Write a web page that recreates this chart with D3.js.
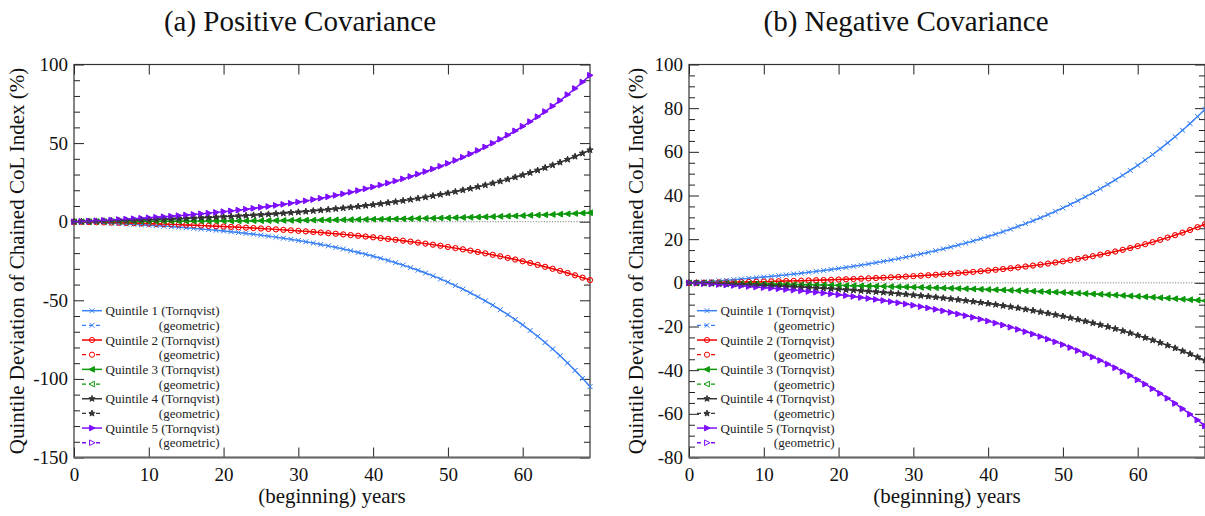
<!DOCTYPE html>
<html><head><meta charset="utf-8">
<script src="https://cdn.jsdelivr.net/npm/d3@7"></script>
<style>
html,body{margin:0;padding:0;background:#fff;}
svg{display:block;}
</style></head>
<body>
<svg id="chart" width="1205" height="516"></svg>
<script>
// ---------------- data ----------------
const years = d3.range(0, 70);
const xTicks = [0, 10, 20, 30, 40, 50, 60];
const yTicksA = [-150, -100, -50, 0, 50, 100];
const yMinorA = [-140,-130,-120,-110,-90,-80,-70,-60,-40,-30,-20,-10,10,20,30,40,60,70,80,90];
const yTicksB = [-80, -60, -40, -20, 0, 20, 40, 60, 80, 100];
const yMinorB = [-75,-70,-65,-55,-50,-45,-35,-30,-25,-15,-10,-5,5,10,15,25,30,35,45,50,55,65,70,75,85,90,95];
const seriesNames = ["Quintile 1", "Quintile 2", "Quintile 3", "Quintile 4", "Quintile 5"];
const seriesColors = ["#3b82f6", "#f20000", "#0c990c", "#333333", "#7f0fff"];
const titles = ["(a) Positive Covariance", "(b) Negative Covariance"];

// (a) positive covariance, deviation in % by (beginning) year
const posQ1 = [0,-0.18,-0.36,-0.56,-0.76,-0.98,-1.20,-1.44,-1.69,-1.95,-2.23,-2.52,-2.83,-3.15,-3.49,-3.84,-4.22,-4.61,-5.02,-5.45,-5.91,-6.39,-6.89,-7.42,-7.98,-8.57,-9.18,-9.83,-10.51,-11.23,-11.98,-12.77,-13.60,-14.47,-15.39,-16.36,-17.37,-18.44,-19.56,-20.74,-21.98,-23.28,-24.65,-26.09,-27.61,-29.20,-30.87,-32.63,-34.48,-36.42,-38.47,-40.62,-42.88,-45.25,-47.75,-50.37,-53.13,-56.03,-59.08,-62.28,-65.65,-69.20,-72.92,-76.84,-80.95,-85.28,-89.83,-94.61,-99.64,-104.92];
const posQ2 = [0,-0.10,-0.21,-0.32,-0.44,-0.56,-0.68,-0.81,-0.95,-1.09,-1.23,-1.39,-1.55,-1.71,-1.88,-2.06,-2.25,-2.44,-2.65,-2.86,-3.08,-3.30,-3.54,-3.79,-4.05,-4.31,-4.59,-4.88,-5.18,-5.50,-5.82,-6.16,-6.52,-6.89,-7.27,-7.67,-8.08,-8.52,-8.97,-9.43,-9.92,-10.43,-10.96,-11.51,-12.08,-12.67,-13.29,-13.94,-14.61,-15.31,-16.04,-16.79,-17.58,-18.40,-19.25,-20.14,-21.07,-22.03,-23.03,-24.07,-25.16,-26.29,-27.46,-28.69,-29.96,-31.28,-32.66,-34.10,-35.59,-37.15];
const posQ3 = [0,0.02,0.03,0.05,0.07,0.09,0.10,0.12,0.15,0.17,0.19,0.21,0.24,0.26,0.29,0.32,0.35,0.37,0.41,0.44,0.47,0.51,0.54,0.58,0.62,0.66,0.70,0.75,0.79,0.84,0.89,0.95,1.00,1.06,1.12,1.18,1.24,1.31,1.38,1.45,1.52,1.60,1.68,1.77,1.85,1.94,2.04,2.14,2.24,2.35,2.46,2.58,2.70,2.82,2.95,3.09,3.23,3.38,3.53,3.69,3.86,4.03,4.21,4.40,4.60,4.80,5.01,5.23,5.46,5.70];
const posQ4 = [0,0.10,0.20,0.31,0.42,0.54,0.66,0.79,0.93,1.07,1.22,1.37,1.53,1.70,1.88,2.06,2.26,2.46,2.67,2.89,3.12,3.37,3.62,3.88,4.16,4.45,4.76,5.07,5.40,5.75,6.11,6.49,6.89,7.31,7.74,8.20,8.67,9.17,9.69,10.24,10.81,11.40,12.03,12.68,13.36,14.07,14.82,15.60,16.42,17.27,18.16,19.10,20.08,21.10,22.17,23.29,24.46,25.68,26.96,28.30,29.70,31.17,32.70,34.30,35.98,37.74,39.57,41.49,43.50,45.60];
const posQ5 = [0,0.20,0.41,0.63,0.86,1.10,1.35,1.62,1.89,2.18,2.48,2.80,3.13,3.47,3.84,4.21,4.61,5.02,5.45,5.91,6.38,6.87,7.39,7.93,8.50,9.09,9.71,10.36,11.04,11.75,12.49,13.26,14.07,14.92,15.81,16.74,17.71,18.73,19.79,20.90,22.07,23.28,24.56,25.89,27.28,28.74,30.26,31.86,33.52,35.27,37.09,39.00,41.00,43.08,45.27,47.55,49.94,52.44,55.06,57.79,60.65,63.65,66.78,70.05,73.48,77.06,80.81,84.73,88.83,93.12];

// (b) negative covariance
const negQ1 = [0,0.22,0.45,0.68,0.93,1.19,1.46,1.74,2.03,2.33,2.64,2.97,3.31,3.66,4.03,4.41,4.81,5.23,5.66,6.11,6.58,7.07,7.58,8.10,8.65,9.23,9.82,10.44,11.09,11.76,12.46,13.19,13.94,14.73,15.55,16.41,17.30,18.22,19.18,20.19,21.23,22.31,23.44,24.62,25.84,27.12,28.44,29.82,31.26,32.75,34.31,35.93,37.61,39.37,41.19,43.09,45.07,47.13,49.27,51.50,53.82,56.24,58.76,61.37,64.10,66.93,69.88,72.95,76.15,79.48];
const negQ2 = [0,0.05,0.09,0.14,0.19,0.25,0.31,0.37,0.43,0.50,0.57,0.65,0.72,0.81,0.89,0.98,1.08,1.18,1.28,1.40,1.51,1.63,1.76,1.90,2.04,2.19,2.35,2.51,2.69,2.87,3.06,3.27,3.48,3.70,3.94,4.18,4.44,4.72,5.00,5.31,5.62,5.96,6.31,6.67,7.06,7.47,7.90,8.35,8.82,9.32,9.84,10.39,10.97,11.58,12.21,12.89,13.59,14.33,15.11,15.93,16.80,17.70,18.65,19.66,20.71,21.82,22.98,24.20,25.49,26.84];
const negQ3 = [0,-0.05,-0.09,-0.14,-0.19,-0.24,-0.29,-0.34,-0.39,-0.45,-0.51,-0.56,-0.62,-0.68,-0.75,-0.81,-0.88,-0.94,-1.01,-1.08,-1.15,-1.23,-1.31,-1.38,-1.46,-1.55,-1.63,-1.72,-1.80,-1.90,-1.99,-2.08,-2.18,-2.28,-2.38,-2.49,-2.60,-2.71,-2.82,-2.94,-3.06,-3.18,-3.31,-3.44,-3.57,-3.70,-3.84,-3.98,-4.13,-4.28,-4.43,-4.59,-4.75,-4.92,-5.09,-5.26,-5.44,-5.62,-5.81,-6.00,-6.20,-6.40,-6.61,-6.82,-7.04,-7.26,-7.49,-7.72,-7.96,-8.21];
const negQ4 = [0,-0.10,-0.20,-0.31,-0.42,-0.53,-0.65,-0.78,-0.91,-1.04,-1.18,-1.33,-1.48,-1.64,-1.80,-1.97,-2.15,-2.34,-2.53,-2.73,-2.94,-3.16,-3.39,-3.62,-3.87,-4.12,-4.39,-4.67,-4.96,-5.26,-5.57,-5.89,-6.23,-6.58,-6.95,-7.33,-7.73,-8.14,-8.57,-9.02,-9.49,-9.97,-10.48,-11.00,-11.55,-12.12,-12.71,-13.33,-13.97,-14.64,-15.33,-16.06,-16.81,-17.59,-18.41,-19.26,-20.14,-21.06,-22.02,-23.02,-24.06,-25.14,-26.26,-27.43,-28.65,-29.91,-31.23,-32.60,-34.03,-35.52];
const negQ5 = [0,-0.18,-0.37,-0.56,-0.77,-0.98,-1.20,-1.43,-1.67,-1.92,-2.18,-2.45,-2.73,-3.02,-3.33,-3.64,-3.97,-4.31,-4.67,-5.04,-5.43,-5.83,-6.25,-6.69,-7.14,-7.61,-8.10,-8.61,-9.15,-9.70,-10.28,-10.88,-11.50,-12.15,-12.83,-13.53,-14.27,-15.03,-15.82,-16.65,-17.51,-18.41,-19.34,-20.31,-21.32,-22.37,-23.46,-24.60,-25.79,-27.02,-28.30,-29.64,-31.03,-32.48,-33.98,-35.55,-37.18,-38.88,-40.65,-42.49,-44.40,-46.40,-48.47,-50.63,-52.88,-55.21,-57.65,-60.18,-62.82,-65.56];

// geometric-mean indices coincide with the Tornqvist ones in the picture
const posGeo = [posQ1, posQ2, posQ3, posQ4, posQ5];
const negGeo = [negQ1, negQ2, negQ3, negQ4, negQ5];

// ---------------- drawing ----------------
const SERIF = "Liberation Serif";
const svg = d3.select("#chart");

const markerPaths = {
  cross: "M-2.4,-2.4L2.4,2.4M-2.4,2.4L2.4,-2.4",
  circle: "M2.6,0A2.6,2.6,0,1,1,-2.6,0A2.6,2.6,0,1,1,2.6,0Z",
  triLeft: "M-3,0L2.4,-2.8L2.4,2.8Z",
  star: d3.symbol().type(d3.symbolStar).size(12)(),
  triRight: "M3,0L-2.4,-2.8L-2.4,2.8Z"
};
const markerKinds = ["cross", "circle", "triLeft", "star", "triRight"];

function drawMarker(g, kind, color, filled) {
  const p = g.append("path").attr("d", markerPaths[kind]).attr("stroke", color).attr("stroke-width", 1);
  if (kind === "cross" || kind === "circle") p.attr("fill", "none");
  else p.attr("fill", filled ? color : "#fff");
  return p;
}

function panel(cfg) {
  const x = d3.scaleLinear().domain([0, 69]).range([cfg.left, cfg.left + 516]);
  const y = d3.scaleLinear().domain(cfg.yDomain).range([457.5, 64.5]);
  const g = svg.append("g").attr("font-family", SERIF);

  // zero line
  g.append("line").attr("x1", x(0)).attr("x2", x(69)).attr("y1", y(0)).attr("y2", y(0))
    .attr("stroke", "#777").attr("stroke-width", 0.9).attr("stroke-dasharray", "1.2,1.5");

  // axes
  const fmt = d => String(d);
  const bottom = g.append("g").attr("transform", `translate(0,${y.range()[0]})`)
    .call(d3.axisBottom(x).tickValues(xTicks).tickSize(-10).tickSizeOuter(0).tickPadding(10).tickFormat(fmt));
  const top = g.append("g").attr("transform", `translate(0,${y.range()[1]})`)
    .call(d3.axisTop(x).tickValues(xTicks).tickSize(-10).tickSizeOuter(0).tickFormat(""));
  const leftMaj = g.append("g").attr("transform", `translate(${x(0)},0)`)
    .call(d3.axisLeft(y).tickValues(cfg.yTicks).tickSize(-10).tickSizeOuter(0).tickPadding(6).tickFormat(fmt));
  const leftMin = g.append("g").attr("transform", `translate(${x(0)},0)`)
    .call(d3.axisLeft(y).tickValues(cfg.yMinor).tickSize(-6).tickSizeOuter(0).tickFormat(""));
  const rightMaj = g.append("g").attr("transform", `translate(${x(69)},0)`)
    .call(d3.axisRight(y).tickValues(cfg.yTicks).tickSize(-10).tickSizeOuter(0).tickFormat(""));
  const rightMin = g.append("g").attr("transform", `translate(${x(69)},0)`)
    .call(d3.axisRight(y).tickValues(cfg.yMinor).tickSize(-6).tickSizeOuter(0).tickFormat(""));
  [bottom, top, leftMaj, leftMin, rightMaj, rightMin].forEach(a => {
    a.attr("font-family", SERIF);
    a.select(".domain").remove();
    a.selectAll(".tick line").attr("stroke", "#222").attr("stroke-width", 1);
    a.selectAll(".tick text").attr("font-size", 19).attr("fill", "#111");
  });

  // frame
  g.append("rect").attr("x", x(0)).attr("y", y.range()[1]).attr("width", 516)
    .attr("height", y.range()[0] - y.range()[1]).attr("fill", "none").attr("stroke", "#333").attr("stroke-width", 1.2);
  g.append("line").attr("x1", x(0)).attr("x2", x(69)).attr("y1", y.range()[0]).attr("y2", y.range()[0])
    .attr("stroke", "#666").attr("stroke-width", 2);

  const line = d3.line().x((d, i) => x(years[i])).y(d => y(d));

  // series
  cfg.series.forEach((vals, s) => {
    const color = seriesColors[s];
    g.append("path").datum(vals).attr("d", line).attr("fill", "none")
      .attr("stroke", color).attr("stroke-width", 1.4);
    vals.forEach((v, i) => {
      drawMarker(g, markerKinds[s], color, true).attr("transform", `translate(${x(years[i])},${y(v)})`);
    });
  });
  cfg.geo.forEach((vals, s) => {
    const color = seriesColors[s];
    g.append("path").datum(vals).attr("d", line).attr("fill", "none")
      .attr("stroke", color).attr("stroke-width", 1.1).attr("stroke-dasharray", "4,3");
    vals.forEach((v, i) => {
      drawMarker(g, markerKinds[s], color, false).attr("transform", `translate(${x(years[i])},${y(v)})`)
        .attr("fill", markerKinds[s] === "star" ? color : "none").attr("stroke-width", 0.6).attr("opacity", 0.6);
    });
  });

  // legend
  const lx = x(0);
  seriesNames.forEach((name, s) => {
    const color = seriesColors[s];
    const r1 = 310.7 + 2 * s * 14.67;
    const r2 = r1 + 14.67;
    g.append("line").attr("x1", lx + 8).attr("x2", lx + 28).attr("y1", r1).attr("y2", r1)
      .attr("stroke", color).attr("stroke-width", 1.5);
    drawMarker(g, markerKinds[s], color, true).attr("transform", `translate(${lx + 18},${r1})`);
    g.append("line").attr("x1", lx + 8).attr("x2", lx + 28).attr("y1", r2).attr("y2", r2)
      .attr("stroke", color).attr("stroke-width", 1.3).attr("stroke-dasharray", "4,3");
    drawMarker(g, markerKinds[s], color, false).attr("transform", `translate(${lx + 18},${r2})`)
      .attr("fill", markerKinds[s] === "star" ? color : "#fff");
    g.append("text").attr("x", lx + 145.5).attr("y", r1).attr("dy", "0.35em").attr("text-anchor", "end")
      .attr("font-size", 13).attr("fill", "#222").text(`${name} (Tornqvist)`);
    g.append("text").attr("x", lx + 145.5).attr("y", r2).attr("dy", "0.35em").attr("text-anchor", "end")
      .attr("font-size", 13).attr("fill", "#222").text("(geometric)");
  });

  // labels
  g.append("text").attr("x", x(0) + 258).attr("y", 503).attr("text-anchor", "middle")
    .attr("font-size", 21).attr("fill", "#111").text("(beginning) years");
  g.append("text").attr("transform", `translate(${cfg.ylabX},261) rotate(-90)`).attr("text-anchor", "middle")
    .attr("font-size", 21).attr("fill", "#111")
    .text("Quintile Deviation of Chained CoL Index (%)");
  g.append("text").attr("x", cfg.titleX).attr("y", 31).attr("text-anchor", "middle")
    .attr("font-size", 29).attr("fill", "#111").text(cfg.title);
}

panel({left: 74, yDomain: [-150, 100], yTicks: yTicksA, yMinor: yMinorA,
  series: [posQ1, posQ2, posQ3, posQ4, posQ5], geo: posGeo, title: titles[0], titleX: 300, ylabX: 24});
panel({left: 689, yDomain: [-80, 100], yTicks: yTicksB, yMinor: yMinorB,
  series: [negQ1, negQ2, negQ3, negQ4, negQ5], geo: negGeo, title: titles[1], titleX: 906, ylabX: 643});
</script>
</body></html>
